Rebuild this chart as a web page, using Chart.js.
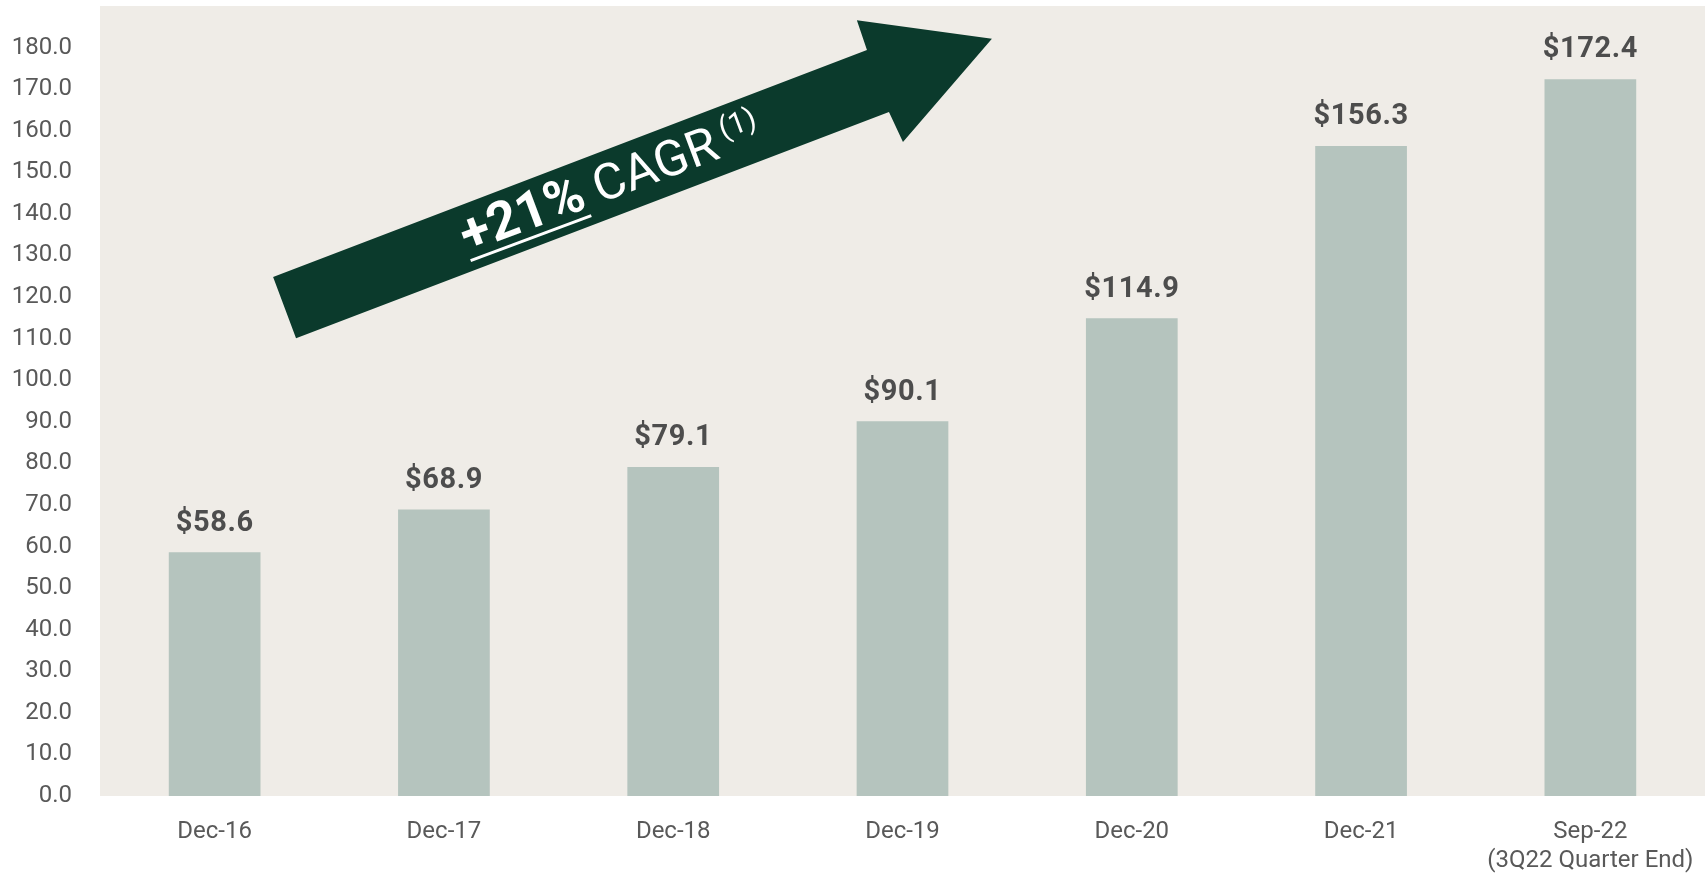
<!DOCTYPE html>
<html>
<head>
<meta charset="utf-8">
<script src="https://cdn.jsdelivr.net/npm/chart.js@4"></script>
<style>
  html, body { margin: 0; padding: 0; background: #ffffff; }
  #wrap { width: 1705px; height: 876px; position: relative; }
</style>
</head>
<body>
<div id="wrap"><canvas id="myChart"></canvas></div>
<script>
// datos del grafico
const categorias = ['Dec-16', 'Dec-17', 'Dec-18', 'Dec-19', 'Dec-20', 'Dec-21', ['Sep-22', '(3Q22 Quarter End)']];
const valores = [58.6, 68.9, 79.1, 90.1, 114.9, 156.3, 172.4];
const etiquetas = ['$58.6', '$68.9', '$79.1', '$90.1', '$114.9', '$156.3', '$172.4'];
const ejeMax = 190;
const ejePaso = 10;
const ultimoTick = 180;

const fuente = 'Roboto';

// fondo del area del grafico
const fondoPlugin = {
  id: 'fondo',
  beforeDraw(chart) {
    const { ctx, chartArea } = chart;
    ctx.save();
    ctx.fillStyle = '#efece7';
    ctx.fillRect(chartArea.left, chartArea.top, chartArea.right - chartArea.left, chartArea.bottom - chartArea.top);
    ctx.restore();
  }
};

// etiquetas de valor sobre cada barra
const valoresPlugin = {
  id: 'valores',
  afterDatasetsDraw(chart) {
    const ctx = chart.ctx;
    const meta = chart.getDatasetMeta(0);
    ctx.save();
    ctx.fillStyle = '#4d4d4d';
    ctx.font = 'bold 29px ' + fuente;
    ctx.letterSpacing = '0.6px';
    ctx.textAlign = 'center';
    ctx.textBaseline = 'middle';
    meta.data.forEach((bar, i) => {
      ctx.fillText(etiquetas[i], bar.x, bar.y - 29);
    });
    ctx.restore();
  }
};

// flecha CAGR (posicion en unidades de los ejes)
const flecha = [[0.255, 124.8], [2.845, 179.4], [2.801, 186.6], [3.390, 182.1], [3.002, 157.3], [2.941, 164.5], [0.355, 110.1]];
const flechaTexto = [1.750, 144.0]; // centro de la linea base
const flechaAngulo = -20.5;

const flechaPlugin = {
  id: 'flecha',
  afterDatasetsDraw(chart) {
    const { ctx, scales } = chart;
    const px = p => [scales.x.getPixelForValue(p[0]), scales.y.getPixelForValue(p[1])];
    ctx.save();
    ctx.fillStyle = '#0b3a2c';
    ctx.beginPath();
    flecha.forEach((p, i) => {
      const [x, y] = px(p);
      if (i === 0) ctx.moveTo(x, y); else ctx.lineTo(x, y);
    });
    ctx.closePath();
    ctx.fill();

    // texto girado
    const [cx, cy] = px(flechaTexto);
    ctx.translate(cx, cy);
    ctx.rotate(flechaAngulo * Math.PI / 180);
    ctx.fillStyle = '#ffffff';
    ctx.textBaseline = 'alphabetic';
    const f1 = 'bold 53px ' + fuente;
    const f2 = '50px ' + fuente;
    const f3 = '30px ' + fuente;
    ctx.font = f1; const w1 = ctx.measureText('+21%').width;
    ctx.font = f2; const w2 = ctx.measureText(' CAGR').width;
    ctx.font = f3; const w3 = ctx.measureText('(1)').width;
    const hueco = 8;
    const total = w1 + w2 + hueco + w3;
    let x = -total / 2;
    ctx.font = f1; ctx.fillText('+21%', x, 0);
    ctx.fillRect(x, 7, w1, 3);
    x += w1;
    ctx.font = f2; ctx.fillText(' CAGR', x, 0);
    x += w2 + hueco;
    ctx.font = f3; ctx.fillText('(1)', x, -17);
    ctx.restore();
  }
};

const ctx = document.getElementById('myChart');

new Chart(ctx, {
  type: 'bar',
  data: {
    labels: categorias,
    datasets: [{
      label: 'Valor',
      data: valores,
      backgroundColor: '#b5c4be',
      barPercentage: 0.4,
      categoryPercentage: 1
    }]
  },
  options: {
    responsive: true,
    maintainAspectRatio: false,
    animation: false,
    layout: { padding: { top: 6, right: 0, left: 0, bottom: 0 } },
    plugins: {
      legend: { display: false },
      tooltip: { enabled: false }
    },
    scales: {
      x: {
        grid: { display: false, drawTicks: false, tickLength: 0 },
        border: { display: false },
        ticks: {
          color: '#595959',
          font: { family: fuente, size: 24, lineHeight: 1.2 },
          padding: 22,
          maxRotation: 0,
          autoSkip: false
        },
        afterFit(scale) {
          scale.height = 80;
          scale.paddingLeft = 0;
          scale.paddingRight = 0;
        }
      },
      y: {
        min: 0,
        max: ejeMax,
        grid: { display: false, drawTicks: false, tickLength: 0 },
        border: { display: false },
        ticks: {
          stepSize: ejePaso,
          color: '#595959',
          font: { family: fuente, size: 24 },
          padding: 28,
          callback: v => v > ultimoTick ? '' : v.toFixed(1)
        },
        afterFit(scale) {
          scale.width = 100;
          scale.paddingTop = 0;
          scale.paddingBottom = 0;
        }
      }
    }
  },
  plugins: [fondoPlugin, valoresPlugin, flechaPlugin]
});
</script>
</body>
</html>
